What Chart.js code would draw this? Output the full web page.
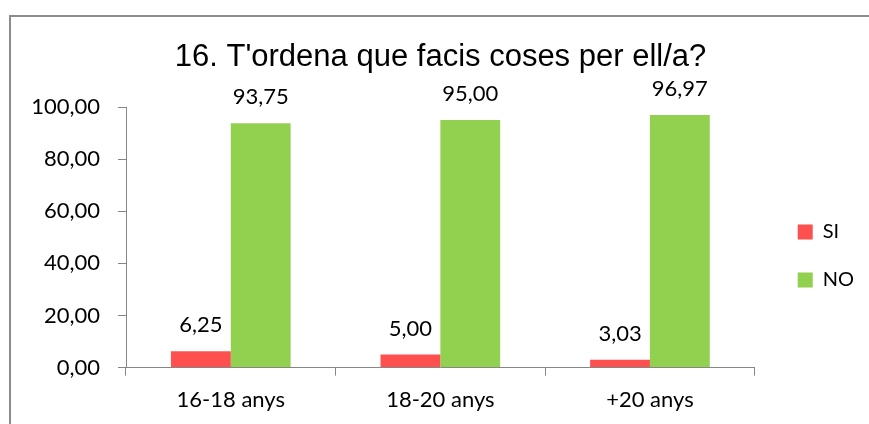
<!DOCTYPE html>
<html>
<head>
<meta charset="utf-8">
<script src="https://cdn.jsdelivr.net/npm/chart.js@4"></script>
<style>
    html, body { margin: 0; padding: 0; background: #fff; }
    #wrap { width: 869px; height: 424px; position: relative; }
</style>
</head>
<body>
<div id="wrap"><canvas id="chart"></canvas></div>
<script>
const categories = ["16-18 anys", "18-20 anys", "+20 anys"];
const siValues = [6.25, 5.00, 3.03];
const noValues = [93.75, 95.00, 96.97];
const seriesNames = ["SI", "NO"];
const titleText = "16. T'ordena que facis coses per ell/a?";

const fmt = v => v.toFixed(2).replace('.', ',');

// frame like the Excel chart border (left and top visible)
const framePlugin = {
    id: 'frame',
    beforeDraw(chart) {
        const ctx = chart.ctx;
        ctx.save();
        ctx.strokeStyle = '#8c8c8c';
        ctx.lineWidth = 2;
        ctx.beginPath();
        ctx.moveTo(10, 430);
        ctx.lineTo(10, 16);
        ctx.lineTo(880, 16);
        ctx.stroke();
        ctx.restore();
    }
};

// nudge the legend and title to where Excel put them
const boxShift = {
    id: 'boxShift',
    afterLayout(chart) {
        const lg = chart.legend;
        lg.top += 44; lg.bottom += 44;
        lg.left += 15; lg.right += 15;
        const t = chart.titleBlock;
        t.left += 16; t.right += 16;
    }
};

// value labels above each bar
const valueLabels = {
    id: 'valueLabels',
    afterDatasetsDraw(chart) {
        const ctx = chart.ctx;
        ctx.save();
        ctx.font = '22px Lato';
        ctx.fillStyle = '#000';
        ctx.textAlign = 'center';
        ctx.textBaseline = 'alphabetic';
        chart.data.datasets.forEach((ds, i) => {
            chart.getDatasetMeta(i).data.forEach((bar, j) => {
                ctx.fillText(fmt(ds.data[j]), bar.x, bar.y - 19);
            });
        });
        ctx.restore();
    }
};

Chart.defaults.font.family = 'Lato';
Chart.defaults.color = '#000';

new Chart(document.getElementById('chart'), {
    type: 'bar',
    data: {
        labels: categories,
        datasets: [
            { label: seriesNames[0], data: siValues, backgroundColor: '#ff5050', categoryPercentage: 0.571, barPercentage: 1.0 },
            { label: seriesNames[1], data: noValues, backgroundColor: '#92d050', categoryPercentage: 0.571, barPercentage: 1.0 }
        ]
    },
    options: {
        responsive: true,
        maintainAspectRatio: false,
        animation: false,
        layout: { padding: { left: 0, right: 20, top: 0, bottom: 0 } },
        plugins: {
            title: {
                display: true,
                text: titleText,
                font: { family: 'Liberation Sans', size: 31, weight: 'normal' },
                color: '#000',
                padding: { top: 39, bottom: 30.8 }
            },
            legend: {
                position: 'right',
                labels: {
                    boxWidth: 15,
                    boxHeight: 15,
                    padding: 28,
                    font: { size: 20 },
                    color: '#000'
                }
            },
            tooltip: { enabled: false }
        },
        scales: {
            x: {
                grid: { drawOnChartArea: false, drawTicks: true, tickLength: 8, color: '#868686' },
                border: { color: '#868686', width: 1 },
                ticks: { font: { size: 22 }, padding: 11, color: '#000' }
            },
            y: {
                min: 0,
                max: 100,
                ticks: { stepSize: 20, font: { size: 22 }, padding: 18, color: '#000', callback: v => fmt(v) },
                grid: { drawOnChartArea: false, drawTicks: true, tickLength: 8, color: '#868686' },
                border: { color: '#868686', width: 1 },
                afterFit: s => { s.width = 126; }
            }
        }
    },
    plugins: [framePlugin, boxShift, valueLabels]
});
</script>
</body>
</html>
